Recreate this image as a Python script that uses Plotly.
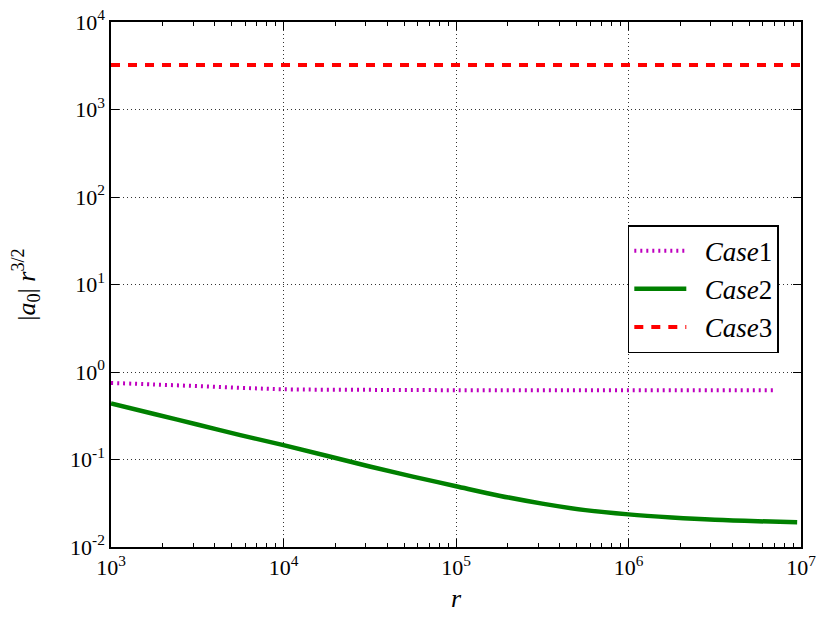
import plotly.graph_objects as go

# ---- data ----
r_case1 = [1e3, 1.78e3, 3.16e3, 5.62e3, 1e4, 3.16e4, 1e5, 1e6, 7e6]
y_case1 = [0.75, 0.72, 0.69, 0.66, 0.635, 0.625, 0.62, 0.618, 0.618]

r_case2 = [1e3, 1.78e3, 3.16e3, 5.62e3, 1e4, 3.16e4, 5.62e4, 1e5, 1.78e5,
           3.16e5, 5.62e5, 1e6, 1.78e6, 3.16e6, 5.62e6, 9.5e6]
y_case2 = [0.436, 0.331, 0.251, 0.19, 0.146, 0.0832, 0.0638, 0.0495, 0.0386,
           0.0313, 0.0264, 0.0236, 0.0218, 0.0205, 0.0197, 0.0192]

r_case3 = [1e3, 1e7]
y_case3 = [3230, 3230]

x_ticks = [1e3, 1e4, 1e5, 1e6, 1e7]
x_ticktext = ["10<sup>3</sup>", "10<sup>4</sup>", "10<sup>5</sup>", "10<sup>6</sup>", "10<sup>7</sup>"]
y_ticks = [1e-2, 1e-1, 1e0, 1e1, 1e2, 1e3, 1e4]
y_ticktext = ["10<sup>-2</sup>", "10<sup>-1</sup>", "10<sup>0</sup>", "10<sup>1</sup>",
              "10<sup>2</sup>", "10<sup>3</sup>", "10<sup>4</sup>"]
x_minor = [m * 10 ** e for e in range(3, 7) for m in range(2, 10)]

FONT = "Liberation Serif"
PAD = "&nbsp;&nbsp;"

fig = go.Figure()
fig.add_trace(go.Scatter(x=r_case1, y=y_case1, mode="lines", name=PAD + "<i>Case</i>1",
                         legendgroup="a",
                         line=dict(color="#BF00BF", width=4, dash="2px,4px", shape="spline")))
fig.add_trace(go.Scatter(x=r_case2, y=y_case2, mode="lines", name=PAD + "<i>Case</i>2",
                         legendgroup="b",
                         line=dict(color="#008000", width=4.5, shape="spline", smoothing=1)))
fig.add_trace(go.Scatter(x=r_case3, y=y_case3, mode="lines", name=PAD + "<i>Case</i>3",
                         legendgroup="c",
                         line=dict(color="#FF0000", width=4, dash="9px,8px")))

axis_common = dict(
    type="log", showline=True, linecolor="black", linewidth=1.5, mirror="ticks",
    ticks="inside", ticklen=8, tickwidth=1, tickcolor="black",
    showgrid=True, gridcolor="rgba(0,0,0,0.8)", gridwidth=1, griddash="1px,3px",
    zeroline=False, tickfont=dict(family=FONT, size=22, color="black"),
    ticklabeloverflow="allow", automargin=False,
)

fig.update_xaxes(range=[3, 7], tickvals=x_ticks, ticktext=x_ticktext,
                 minor=dict(tickvals=x_minor, ticks="inside", ticklen=4,
                            tickcolor="black", showgrid=False),
                 title=dict(text="<i>r</i>", font=dict(family=FONT, size=26, color="black"),
                            standoff=10),
                 **axis_common)
fig.update_yaxes(range=[-2, 4], tickvals=y_ticks, ticktext=y_ticktext,
                 title=dict(text="|<i>a</i><sub>0</sub>| <i>r</i><sup>3/2</sup>",
                            font=dict(family=FONT, size=26, color="black"), standoff=32),
                 **axis_common)

fig.update_layout(
    width=830, height=623,
    margin=dict(l=103, r=37, t=14, b=84, autoexpand=False),
    paper_bgcolor="white", plot_bgcolor="white",
    showlegend=True,
    legend=dict(x=0.749, y=0.613, xanchor="left", yanchor="top",
                bordercolor="black", borderwidth=1.5, bgcolor="white",
                font=dict(family=FONT, size=27, color="black"),
                traceorder="grouped", tracegroupgap=0,
                itemwidth=52),
)

fig.write_html("out.html")
